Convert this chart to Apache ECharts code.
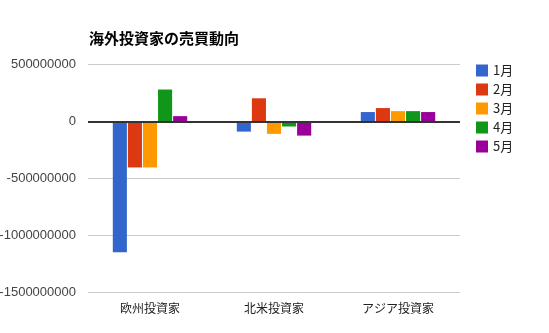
<!DOCTYPE html>
<html>
<head>
<meta charset="utf-8">
<script src="https://cdn.jsdelivr.net/npm/echarts@6/dist/echarts.min.js"></script>
<style>
  html, body { margin: 0; padding: 0; background: #fff; }
  #chart { width: 549px; height: 333px; }
</style>
</head>
<body>
<div id="chart"></div>
<script>
// Investor groups on the x axis
const categories = ['欧州投資家', '北米投資家', 'アジア投資家'];

// Net buying/selling per month (yen)
const jan = [-1150000000, -90000000, 82000000];
const feb = [-405000000, 203000000, 117000000];
const mar = [-405000000, -110000000, 90000000];
const apr = [280000000, -45000000, 90000000];
const may = [46000000, -125000000, 82000000];

const monthNames = ['1月', '2月', '3月', '4月', '5月'];
const monthValues = [jan, feb, mar, apr, may];
const colors = ['#3366cc', '#dc3912', '#ff9900', '#109618', '#990099'];

const jpFont = '"Noto Sans CJK JP", "Liberation Sans", sans-serif';
const chart = echarts.init(document.getElementById('chart'));

const series = monthNames.map((name, i) => {
  const s = {
    name: name,
    type: 'bar',
    data: monthValues[i],
    itemStyle: { color: colors[i] },
    barGap: '7%',
    barCategoryGap: '40%'
  };
  if (i === 0) {
    // baseline at zero
    s.markLine = {
      silent: true,
      symbol: 'none',
      label: { show: false },
      lineStyle: { color: '#333', width: 2, type: 'solid' },
      data: [{ yAxis: 0 }]
    };
  }
  return s;
});

chart.setOption({
  animation: false,
  title: {
    text: '海外投資家の売買動向',
    left: 84,
    top: 26,
    textStyle: { fontFamily: jpFont, fontSize: 15, fontWeight: 'bold', color: '#000' }
  },
  legend: {
    orient: 'vertical',
    left: 471,
    top: 59,
    itemWidth: 12,
    itemHeight: 12,
    itemGap: 6,
    icon: 'rect',
    textStyle: { fontFamily: jpFont, fontSize: 13, color: '#222' },
    data: monthNames
  },
  grid: { left: 88, right: 89, top: 64.5, bottom: 41, containLabel: false, outerBoundsMode: 'none' },
  xAxis: {
    type: 'category',
    data: categories,
    axisLine: { show: false },
    axisTick: { show: false },
    axisLabel: { fontFamily: jpFont, fontSize: 12, color: '#222', margin: 10 }
  },
  yAxis: {
    type: 'value',
    min: -1500000000,
    max: 500000000,
    interval: 500000000,
    axisLine: { show: false },
    axisTick: { show: false },
    axisLabel: {
      fontFamily: '"Liberation Sans", Arial, sans-serif',
      fontSize: 13,
      color: '#444',
      margin: 12,
      formatter: (v) => String(v)
    },
    splitLine: { lineStyle: { color: '#cccccc', width: 1 } }
  },
  series: series
});
</script>
</body>
</html>
